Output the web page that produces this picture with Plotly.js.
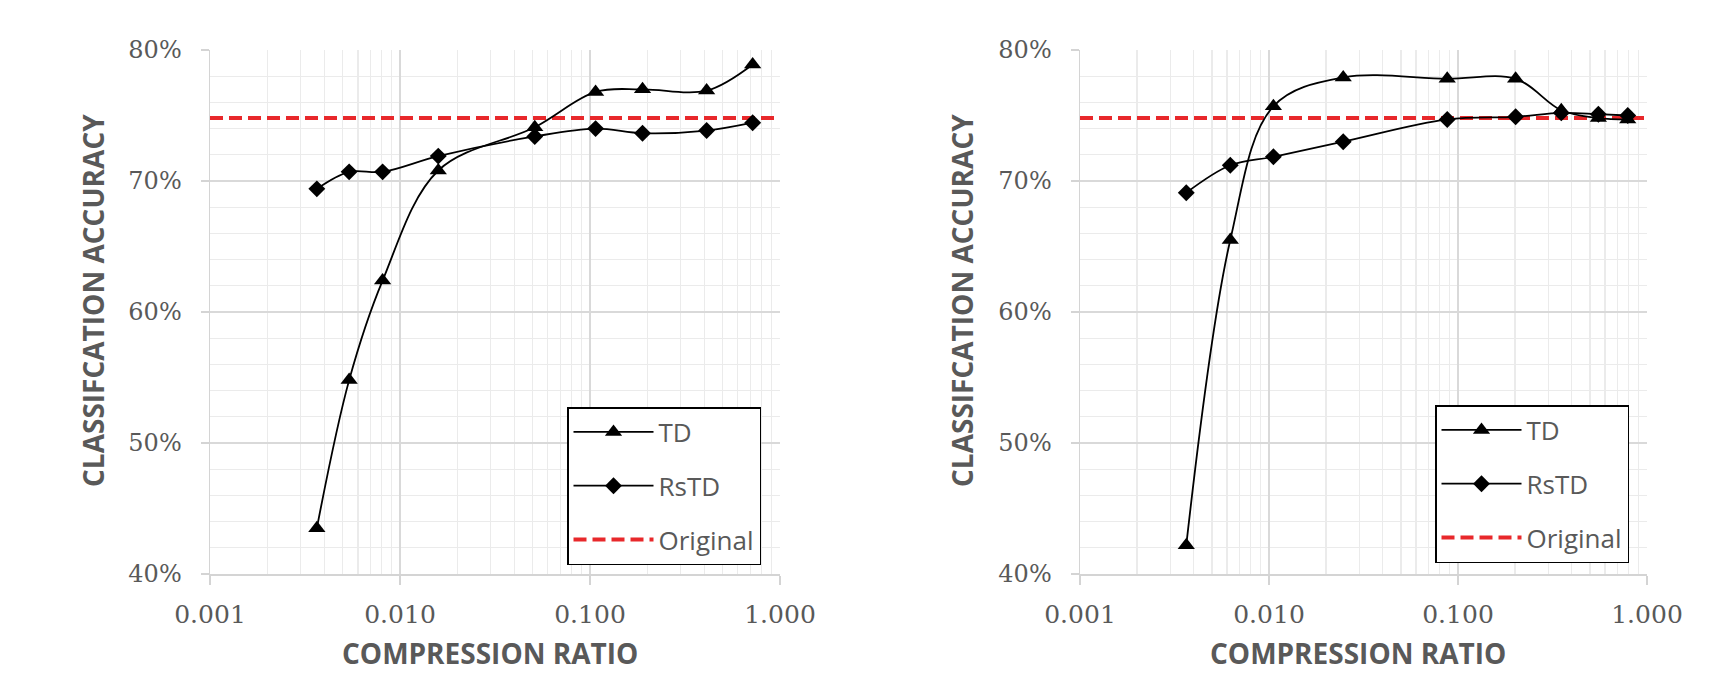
<!DOCTYPE html>
<html>
<head>
<meta charset="utf-8">
<script src="https://cdn.plot.ly/plotly-3.0.1.min.js"></script>
<style>html,body{margin:0;padding:0;background:#fff;}#chart{width:1736px;height:673px;}</style>
</head>
<body>
<div id="chart"></div>
<script>
// ---- Data ----
const leftRatio  = [0.00365, 0.0054, 0.0081, 0.0159, 0.0512, 0.107, 0.189, 0.411, 0.718];
const leftTD     = [43.5, 54.8, 62.4, 70.8, 74.1, 76.8, 77.0, 76.9, 78.9];
const leftRsTD   = [69.4, 70.7, 70.7, 71.9, 73.4, 74.0, 73.65, 73.85, 74.45];

const rightRatio = [0.00365, 0.00624, 0.01055, 0.0247, 0.0877, 0.2018, 0.352, 0.553, 0.791];
const rightTD    = [42.2, 65.5, 75.7, 77.9, 77.8, 77.8, 75.4, 74.8, 74.7];
const rightRsTD  = [69.1, 71.2, 71.85, 73.0, 74.7, 74.9, 75.2, 75.1, 75.0];

const originalX   = [0.001, 1];
const originalAcc = [74.8, 74.8];

const seriesNames = ['TD', 'RsTD', 'Original'];
const xTitle = 'COMPRESSION RATIO';
const yTitle = 'CLASSIFCATION ACCURACY';

// ---- Styles ----
const gray = '#595959';
const lineStyle = {color: '#000', width: 1.8, shape: 'spline', smoothing: 1};

function chartTraces(xa, ya, leg, xs, td, rs) {
  return [
    {x: originalX, y: originalAcc, xaxis: xa, yaxis: ya, legend: leg, name: seriesNames[2],
     mode: 'lines', line: {color: '#e8282b', width: 4, dash: '13px,6px'},
     legendgroup: leg + 'o', legendrank: 3, hoverinfo: 'skip'},
    {x: xs, y: td, xaxis: xa, yaxis: ya, legend: leg, name: seriesNames[0],
     mode: 'lines+markers', line: lineStyle,
     marker: {symbol: 'triangle-up', size: 15, color: '#000'},
     legendgroup: leg + 't', legendrank: 1},
    {x: xs, y: rs, xaxis: xa, yaxis: ya, legend: leg, name: seriesNames[1],
     mode: 'lines+markers', line: lineStyle,
     marker: {symbol: 'diamond', size: 13, color: '#000'},
     legendgroup: leg + 'r', legendrank: 2}
  ];
}

const data = [].concat(
  chartTraces('x', 'y', 'legend', leftRatio, leftTD, leftRsTD),
  chartTraces('x2', 'y2', 'legend2', rightRatio, rightTD, rightRsTD)
);

const W = 1736, H = 673;
function xAxis(domain, anchor) {
  return {
    type: 'log', range: [-3, 0], domain: domain, anchor: anchor,
    dtick: 1, tickformat: '.3f',
    showgrid: true, gridcolor: '#d9d9d9', gridwidth: 1.5,
    minor: {dtick: 'D1', showgrid: true, gridcolor: '#ebebeb', gridwidth: 1.3},
    showline: true, linecolor: '#d4d4d4', linewidth: 1.5,
    ticks: 'outside', ticklen: 9, tickcolor: '#d4d4d4', tickwidth: 1.5,
    ticklabelstandoff: 8,
    tickfont: {family: 'DejaVu Serif', size: 25, color: gray},
    zeroline: false, fixedrange: true
  };
}
function yAxis(domain, anchor) {
  return {
    range: [40, 80], domain: domain, anchor: anchor,
    dtick: 10, ticksuffix: '%',
    showgrid: true, gridcolor: '#d9d9d9', gridwidth: 1.5,
    minor: {dtick: 2, showgrid: true, gridcolor: '#ebebeb', gridwidth: 1.3},
    showline: true, linecolor: '#d4d4d4', linewidth: 1.5,
    ticks: 'outside', ticklen: 8, tickcolor: '#d4d4d4', tickwidth: 1.5,
    ticklabelstandoff: 14,
    tickfont: {family: 'DejaVu Serif', size: 24, color: gray},
    zeroline: false, fixedrange: true
  };
}
const yDom = [1 - 574 / H, 1 - 50 / H];
function legendCfg(x, y) {
  return {
    x: x, y: y, xref: 'paper', yref: 'paper', xanchor: 'left', yanchor: 'top',
    bgcolor: '#fff', bordercolor: '#000', borderwidth: 1.5,
    font: {family: 'Open Sans', size: 26, color: gray},
    tracegroupgap: 17, itemwidth: 80
  };
}
const titleFont = {family: 'Open Sans', size: 28, color: gray, weight: 700};

const layout = {
  width: W, height: H,
  margin: {l: 0, r: 0, t: 0, b: 0},
  paper_bgcolor: '#fff', plot_bgcolor: '#fff',
  xaxis: xAxis([210 / W, 780 / W], 'y'),
  yaxis: yAxis(yDom, 'x'),
  xaxis2: xAxis([1080 / W, 1647 / W], 'y2'),
  yaxis2: yAxis(yDom, 'x2'),
  legend: legendCfg(567 / W, 1 - 407 / H),
  legend2: legendCfg(1435 / W, 1 - 405 / H),
  showlegend: true,
  annotations: [
    {text: yTitle, xref: 'paper', yref: 'paper', x: 93 / W, y: 1 - 301 / H, textangle: -90,
     showarrow: false, font: titleFont, xanchor: 'center', yanchor: 'middle'},
    {text: yTitle, xref: 'paper', yref: 'paper', x: 962 / W, y: 1 - 301 / H, textangle: -90,
     showarrow: false, font: titleFont, xanchor: 'center', yanchor: 'middle'},
    {text: xTitle, xref: 'paper', yref: 'paper', x: 490 / W, y: 0, borderpad: 0,
     showarrow: false, font: titleFont, xanchor: 'center', yanchor: 'bottom'},
    {text: xTitle, xref: 'paper', yref: 'paper', x: 1358 / W, y: 0, borderpad: 0,
     showarrow: false, font: titleFont, xanchor: 'center', yanchor: 'bottom'}
  ]
};

Plotly.newPlot('chart', data, layout, {staticPlot: true, displayModeBar: false});
</script>
</body>
</html>
